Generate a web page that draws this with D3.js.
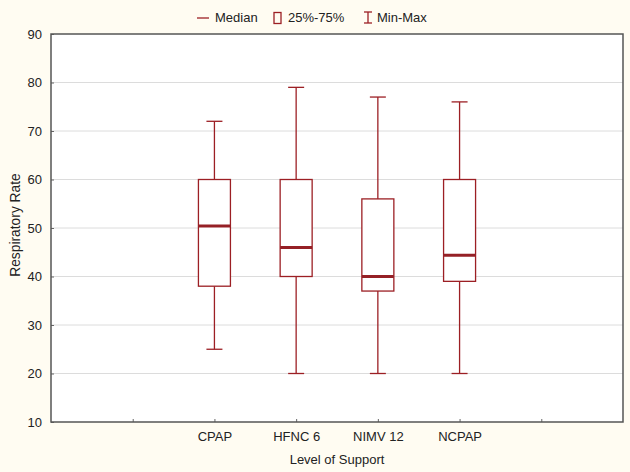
<!DOCTYPE html>
<html><head><meta charset="utf-8">
<script src="https://cdn.jsdelivr.net/npm/d3@7"></script>
<style>body{margin:0;background:#fffcf2;}svg{display:block;font-family:"Liberation Sans",Arial,sans-serif;}</style>
</head><body><svg id="c" width="630" height="472"></svg>
<script>
const categories = ["CPAP", "HFNC 6", "NIMV 12", "NCPAP"];
const minVals    = [25, 20, 20, 20];
const q1Vals     = [38, 40, 37, 39];
const medianVals = [50.4, 46, 40, 44.4];
const q3Vals     = [60, 60, 56, 60];
const maxVals    = [72, 79, 77, 76];
const yTicks = [10, 20, 30, 40, 50, 60, 70, 80, 90];
const xSlots = ["", "", "CPAP", "HFNC 6", "NIMV 12", "NCPAP", "", ""]; // positions 0..7

const svg = d3.select("#c");
const W = 630, H = 472;
const m = {left: 51, right: 7, top: 34, bottom: 50};
const pw = W - m.left - m.right, ph = H - m.top - m.bottom;
svg.append("rect").attr("width", W).attr("height", H).attr("fill", "#fffcf2");
const g = svg.append("g").attr("transform", `translate(${m.left},${m.top})`);
g.append("rect").attr("width", pw).attr("height", ph).attr("fill", "#fff");

const x = d3.scaleLinear().domain([0, 7]).range([0, pw]);
const y = d3.scaleLinear().domain([10, 90]).range([ph, 0]);
const pos = c => categories.indexOf(c) + 2;

// gridlines
g.selectAll(".grid").data(yTicks.slice(1, -1)).join("line")
  .attr("x1", 0).attr("x2", pw).attr("y1", d => y(d)).attr("y2", d => y(d))
  .attr("stroke", "#dcdcdc").attr("stroke-width", 1);

// y axis
const ya = g.append("g").call(d3.axisLeft(y).tickValues(yTicks).tickSize(-3).tickPadding(9));
ya.select(".domain").remove();
ya.selectAll("line").attr("stroke", "#666");
ya.selectAll("text").attr("font-size", 13).attr("fill", "#222").attr("font-family", "Liberation Sans, Arial, sans-serif");

// x axis
const xa = g.append("g").attr("transform", `translate(0,${ph})`)
  .call(d3.axisBottom(x).tickValues([1, 2, 3, 4, 5, 6]).tickFormat(d => xSlots[d]).tickSize(-3).tickPadding(10));
xa.select(".domain").remove();
xa.selectAll("line").attr("stroke", "#666");
xa.selectAll("text").attr("font-size", 13).attr("fill", "#222").attr("font-family", "Liberation Sans, Arial, sans-serif");

// frame
g.append("rect").attr("width", pw).attr("height", ph).attr("fill", "none")
  .attr("stroke", "#555").attr("stroke-width", 1.5);

// boxes
const data = categories.map((c, i) => ({c, min: minVals[i], q1: q1Vals[i], med: medianVals[i], q3: q3Vals[i], max: maxVals[i]}));
const bw = 32, cw = 16;
const col = "#9c1f24";
const bg = g.selectAll(".box").data(data).join("g").attr("transform", d => `translate(${x(pos(d.c))},0)`);
bg.append("line").attr("y1", d => y(d.max)).attr("y2", d => y(d.q3)).attr("stroke", col).attr("stroke-width", 1.3);
bg.append("line").attr("y1", d => y(d.q1)).attr("y2", d => y(d.min)).attr("stroke", col).attr("stroke-width", 1.3);
bg.append("line").attr("x1", -cw/2).attr("x2", cw/2).attr("y1", d => y(d.max)).attr("y2", d => y(d.max)).attr("stroke", col).attr("stroke-width", 1.3);
bg.append("line").attr("x1", -cw/2).attr("x2", cw/2).attr("y1", d => y(d.min)).attr("y2", d => y(d.min)).attr("stroke", col).attr("stroke-width", 1.3);
bg.append("rect").attr("x", -bw/2).attr("width", bw).attr("y", d => y(d.q3)).attr("height", d => y(d.q1) - y(d.q3))
  .attr("fill", "#fff").attr("stroke", col).attr("stroke-width", 1.3);
bg.append("line").attr("x1", -bw/2).attr("x2", bw/2).attr("y1", d => y(d.med)).attr("y2", d => y(d.med))
  .attr("stroke", "#952026").attr("stroke-width", 3);

// axis titles
svg.append("text").attr("x", m.left + pw/2).attr("y", 464).attr("text-anchor", "middle")
  .attr("font-size", 13).attr("fill", "#222").text("Level of Support");
svg.append("text").attr("transform", `translate(19.5,${m.top + ph/2 - 3}) rotate(-90)`).attr("text-anchor", "middle")
  .attr("font-size", 13.8).attr("fill", "#222").text("Respiratory Rate");

// legend
const lg = svg.append("g").attr("font-size", 13).attr("fill", "#222");
lg.append("line").attr("x1", 197).attr("x2", 209).attr("y1", 18).attr("y2", 18).attr("stroke", col).attr("stroke-width", 1.3);
lg.append("text").attr("x", 215).attr("y", 22).text("Median");
lg.append("rect").attr("x", 274).attr("y", 12.5).attr("width", 7).attr("height", 11).attr("fill", "none").attr("stroke", col).attr("stroke-width", 1.3);
lg.append("text").attr("x", 288).attr("y", 22).text("25%-75%");
lg.append("line").attr("x1", 368).attr("x2", 368).attr("y1", 12).attr("y2", 23).attr("stroke", col).attr("stroke-width", 1.3);
lg.append("line").attr("x1", 364).attr("x2", 372).attr("y1", 12).attr("y2", 12).attr("stroke", col).attr("stroke-width", 1.3);
lg.append("line").attr("x1", 364).attr("x2", 372).attr("y1", 23).attr("y2", 23).attr("stroke", col).attr("stroke-width", 1.3);
lg.append("text").attr("x", 377).attr("y", 22).text("Min-Max");
</script></body></html>
